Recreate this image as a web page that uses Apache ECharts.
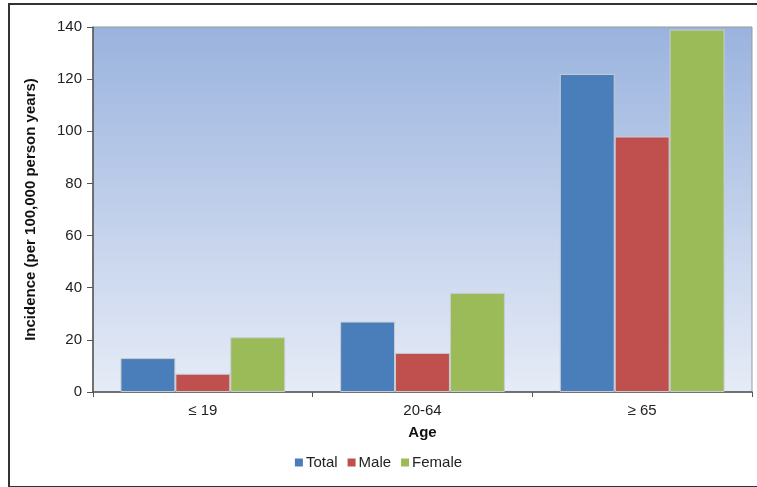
<!DOCTYPE html>
<html><head><meta charset="utf-8">
<script src="https://cdn.jsdelivr.net/npm/echarts@6/dist/echarts.min.js"></script>
<style>
html,body{margin:0;padding:0;background:#fff;}
#frame{position:absolute;left:8px;top:3px;width:760px;height:481px;border:2px solid #333;box-sizing:content-box;}
#c{position:absolute;left:0;top:0;width:757px;height:487px;}
</style></head>
<body>
<div id="frame"></div>
<div id="c"></div>
<script>
const categories = ['≤ 19', '20-64', '≥ 65'];
const seriesNames = ['Total', 'Male', 'Female'];
const totalValues = [13, 27, 122];
const maleValues = [7, 15, 98];
const femaleValues = [21, 38, 139];
const yTicks = [0, 20, 40, 60, 80, 100, 120, 140];

const colors = ['#4A7EBB', '#C0504D', '#9BBB59'];
const chart = echarts.init(document.getElementById('c'));
const font = 'Liberation Sans, Arial, sans-serif';
const mk = (name, data, color) => ({
  name, type: 'bar', data, barGap: '0%', barCategoryGap: '25%',
  itemStyle: { color, borderColor: '#C8CCD2', borderWidth: 1 }
});
chart.setOption({
  animation: false,
  textStyle: { fontFamily: font },
  grid: { left: 93, right: 5, top: 27, bottom: 95, show: true, borderColor: '#999', borderWidth: 1,
    backgroundColor: new echarts.graphic.LinearGradient(0, 0, 0, 1, [
      { offset: 0, color: '#9AB3DE' }, { offset: 1, color: '#E6ECF7' }]) },
  legend: {
    data: seriesNames, bottom: 12, left: 'center', itemWidth: 8, itemHeight: 8, itemGap: 10,
    icon: 'rect', itemStyle: { borderWidth: 0 },
    textStyle: { fontSize: 15, color: '#222', fontFamily: font, padding: [0, 0, 0, -2] }
  },
  xAxis: {
    type: 'category', data: categories, name: 'Age', nameLocation: 'middle', nameGap: 33,
    nameTextStyle: { fontWeight: 'bold', fontSize: 15, color: '#111', fontFamily: font },
    axisLine: { lineStyle: { color: '#555', width: 1.5 } },
    axisTick: { show: true, length: 5, lineStyle: { color: '#555' } },
    axisLabel: { fontSize: 15, color: '#222', margin: 11, fontFamily: font }
  },
  yAxis: {
    type: 'value', min: 0, max: 140, interval: 20,
    name: 'Incidence (per 100,000 person years)', nameLocation: 'middle', nameGap: 55, nameRotate: 90,
    nameTextStyle: { fontWeight: 'bold', fontSize: 15, color: '#111', fontFamily: font },
    axisLine: { show: true, lineStyle: { color: '#555', width: 1.5 } },
    axisTick: { show: true, length: 6, lineStyle: { color: '#555' } },
    splitLine: { show: false },
    axisLabel: { fontSize: 15, color: '#222', margin: 11, fontFamily: font,
      formatter: v => yTicks.includes(v) ? String(v) : '' }
  },
  series: [
    mk(seriesNames[0], totalValues, colors[0]),
    mk(seriesNames[1], maleValues, colors[1]),
    mk(seriesNames[2], femaleValues, colors[2])
  ]
});
</script>
</body></html>
